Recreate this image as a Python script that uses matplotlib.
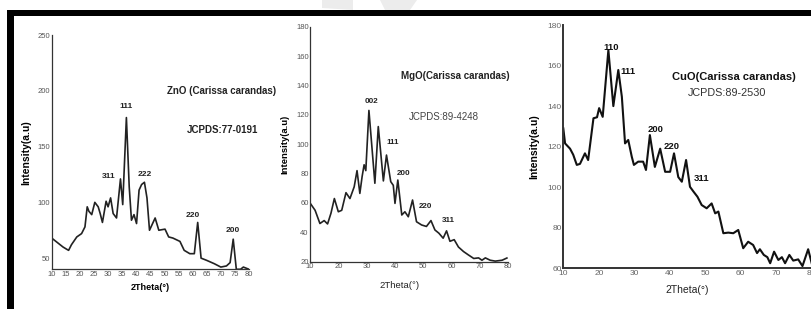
import matplotlib
matplotlib.use("Agg")
import matplotlib.pyplot as plt
from matplotlib.patches import Rectangle, Polygon

plt.rcParams['font.family'] = ['Liberation Sans Narrow', 'Liberation Sans', 'DejaVu Sans']

# ---------------------------------------------------------------------------
# Data (2-theta in deg, intensity in a.u.)
# ---------------------------------------------------------------------------
zno_2theta = [10, 12, 14, 15.3, 16, 17, 18.9, 20.6, 21.8, 22.6, 23.2, 24.2, 25.3,
              26.5, 27.2, 28, 29.3, 30, 30.9, 31.8, 33, 34.4, 35.2, 36.5, 37.5,
              38.3, 39.2, 40.1, 41, 41.9, 42.9, 43.8, 44.7, 46.7, 48, 50.2, 51.5,
              53, 55.5, 57, 59, 60.6, 61.8, 63, 65, 67.7, 70, 72, 73.3, 74.4,
              75.5, 77, 78, 80]
zno_int = [68, 64, 60, 58, 57, 62, 69, 72, 78, 96, 92, 89, 100,
           96, 90, 82, 101, 96, 104, 90, 86, 121, 98, 176, 114,
           84, 89, 81, 111, 116, 118, 104, 75, 86, 75, 76, 69,
           68, 65, 57, 54, 54, 82, 50, 48, 45, 42, 43, 46, 67,
           40, 40, 42, 40]

mgo_2theta = [10, 11.8, 13.5, 15, 16.2, 17.4, 18.6, 20, 21.2, 22.7, 24.1, 25.6,
              26.6, 27.6, 28.4, 29.1, 29.7, 30.8, 32.9, 34.1, 35.9, 37, 38.5,
              39.4, 40, 41, 42.4, 43.5, 44.7, 46.2, 47.6, 49.4, 51.1, 52.7, 54.1,
              55.5, 57, 58.2, 59.4, 60.9, 62.4, 64.2, 66, 67.8, 69.5, 70.7, 71.9,
              73.6, 75.4, 77.8, 79.5]
mgo_int = [60, 55, 46, 48, 45.7, 53, 63, 54, 55, 67, 63, 71,
           82, 66.5, 78, 86, 82, 123, 73.4, 112, 75, 92.6, 74.5,
           72, 59.7, 75.6, 51.8, 54, 50.6, 62, 47.2, 45, 44, 48, 41.6,
           39.4, 36, 41, 33.9, 35, 30, 26.9, 24.5, 22.2, 22.6, 21, 22.6,
           21, 20.4, 21, 22.5]

cuo_2theta = [10, 10.5, 11.9, 12.8, 13.8, 14.7, 16.1, 17, 18.5, 19.5, 20.1, 21.1,
              22.7, 24.1, 25.5, 26.5, 27.4, 28.3, 29.3, 29.9, 31.1, 32.5, 33.3,
              34.4, 35.8, 37.3, 38.7, 40.1, 41.2, 42.4, 43.4, 44.6, 45.7, 46.7,
              47.8, 49, 50.4, 51.8, 52.8, 53.7, 55.1, 56.5, 57.9, 59.3, 60.7,
              62.1, 63.5, 64.6, 65.4, 66.5, 67.5, 68.3, 69.4, 70.6, 71.6, 72.5,
              73.7, 74.8, 76.2, 77.4, 79, 80]
cuo_int = [129, 121.6, 119, 116, 111, 111.5, 116.7, 113.4, 134, 134.5, 139, 134.7,
           167.6, 140, 157.8, 144.6, 121.6, 123.3, 115, 111, 112.6, 112.6, 108.5,
           125.7, 110, 119, 107.6, 107.6, 116.7, 105, 102.7, 113.4, 100.2, 97.8,
           95.3, 91.2, 89.6, 92, 87.1, 88, 77.3, 77.6, 77.3, 78.9, 69.9,
           73.1, 71.5, 67.5, 69.4, 66.6, 65.5, 62.5, 68.2, 64.1, 65.5, 62.5,
           66.6, 63.8, 64.4, 61.1, 69.4, 62.5]

# Miller-index labels: (text, 2theta, intensity)
zno_peaks = [('111', 36.5, 186), ('311', 30.3, 123), ('222', 43.0, 124.6),
             ('220', 60.0, 88), ('200', 74.3, 74.8)]
mgo_peaks = [('002', 31.8, 129), ('111', 39.2, 101), ('200', 42.9, 80),
             ('220', 50.8, 57.4), ('311', 58.8, 48)]
cuo_peaks = [('110', 23.4, 168.8), ('111', 28.3, 157.3), ('200', 36.1, 128.7),
             ('220', 40.5, 120.3), ('311', 49.0, 104.4)]

zno_yticks = [50, 100, 150, 200, 250]
mgo_yticks = [20, 40, 60, 80, 100, 120, 140, 160, 180]
cuo_yticks = [60, 80, 100, 120, 140, 160, 180]
zno_xticks = list(range(10, 81, 5))
mgo_xticks = list(range(10, 81, 10))
cuo_xticks = list(range(10, 81, 10))

# ---------------------------------------------------------------------------
W, H = 812, 309
fig = plt.figure(figsize=(W / 100, H / 100), dpi=100)
fig.patch.set_facecolor('white')
ARIAL = ['Liberation Sans', 'DejaVu Sans']


def px_axes(x0, y0, x1, y1):
    """axes from pixel box (left, top, right, bottom)"""
    return fig.add_axes([x0 / W, 1 - y1 / H, (x1 - x0) / W, (y1 - y0) / H])


def style(ax, xt, yt, xlim, ylim, fs, col='#555555', lw=0.9):
    ax.set_xlim(*xlim)
    ax.set_ylim(*ylim)
    ax.set_xticks(xt)
    ax.set_yticks(yt)
    for s in ('top', 'right'):
        ax.spines[s].set_visible(False)
    for s in ('left', 'bottom'):
        ax.spines[s].set_color('#333333')
        ax.spines[s].set_linewidth(lw)
    ax.tick_params(length=0, labelsize=fs, colors=col, pad=1)
    ax.patch.set_alpha(0)


# ZnO ------------------------------------------------------------------------
ax1 = px_axes(51.7, 35, 249, 269.3)
ax1.plot(zno_2theta, zno_int, color='#222222', lw=1.2)
style(ax1, zno_xticks, zno_yticks, (10, 80), (40, 250), 5.5)
ax1.set_ylabel('Intensity(a.u)', fontsize=7.5, fontweight='bold', labelpad=4.5)
ax1.set_xlabel('2Theta(°)', fontsize=6.5, fontweight='bold', labelpad=4)
ax1.text(70.3, 200, 'ZnO (Carissa carandas)', fontsize=7, fontweight='bold',
         ha='center', va='center', color='#222222')
ax1.text(70.6, 165, 'JCPDS:77-0191', fontsize=7, fontweight='bold',
         ha='center', va='center', color='#222222')
for lbl, x, y in zno_peaks:
    ax1.text(x, y, lbl, fontsize=6, fontweight='bold', ha='center', va='center',
             color='#222222')

# MgO ------------------------------------------------------------------------
ax2 = px_axes(310, 26.7, 508.3, 261.7)
ax2.plot(mgo_2theta, mgo_int, color='#222222', lw=1.2)
style(ax2, mgo_xticks, mgo_yticks, (10, 80), (20, 180), 5.5)
ax2.set_ylabel('Intensity(a.u)', fontsize=6.8, fontweight='bold', labelpad=5)
ax2.set_xlabel('2Theta(°)', fontsize=6.8, color='#222222')
ax2.xaxis.set_label_coords((400 - 310) / 198.3, -0.083)
ax2.text(61.2, 146.4, 'MgO(Carissa carandas)', fontsize=7, fontweight='bold',
         ha='center', va='center', color='#222222')
ax2.text(57.3, 118.7, 'JCPDS:89-4248', fontsize=7, ha='center', va='center',
         color='#444444')
for lbl, x, y in mgo_peaks:
    ax2.text(x, y, lbl, fontsize=5.8, fontweight='bold', ha='center', va='center',
             color='#222222')

# CuO ------------------------------------------------------------------------
ax3 = px_axes(563.3, 25, 811.7, 268.3)
ax3.plot(cuo_2theta, cuo_int, color='#111111', lw=1.5)
style(ax3, cuo_xticks, cuo_yticks, (10, 80), (60, 180), 6, col='#666666', lw=1.4)
ax3.set_ylabel('Intensity(a.u)', fontsize=7.5, fontweight='bold', labelpad=6)
ax3.set_xlabel('2Theta(°)', fontsize=7.5, labelpad=6, color='#222222', family=ARIAL)
ax3.text(58.1, 154.5, 'CuO(Carissa carandas)', fontsize=8, fontweight='bold',
         ha='center', va='center', color='#111111', family=ARIAL)
ax3.text(56.2, 146.3, 'JCPDS:89-2530', fontsize=7.8, ha='center', va='center',
         color='#333333', family=ARIAL)
for lbl, x, y in cuo_peaks:
    ax3.text(x, y, lbl, fontsize=6.8, fontweight='bold', ha='center', va='center',
             color='#111111', family=ARIAL)

# page frame (thick black bars top and left) and faint watermark
fig.add_artist(Rectangle((7 / W, 1 - 16 / H), 1 - 7 / W, 6 / H,
                         transform=fig.transFigure, color='black', lw=0))
fig.add_artist(Rectangle((7 / W, 0), 7 / W, 1 - 10 / H,
                         transform=fig.transFigure, color='black', lw=0))
fig.add_artist(Polygon([(322 / W, 1), (353 / W, 1), (353 / W, 1 - 10 / H),
                        (322 / W, 1 - 8 / H)],
                       transform=fig.transFigure, color='#ececec', lw=0))
fig.add_artist(Polygon([(380 / W, 1), (417 / W, 1), (410 / W, 1 - 10 / H),
                        (385 / W, 1 - 10 / H)],
                       transform=fig.transFigure, color='#ececec', lw=0))

fig.savefig('out.png', dpi=100)
